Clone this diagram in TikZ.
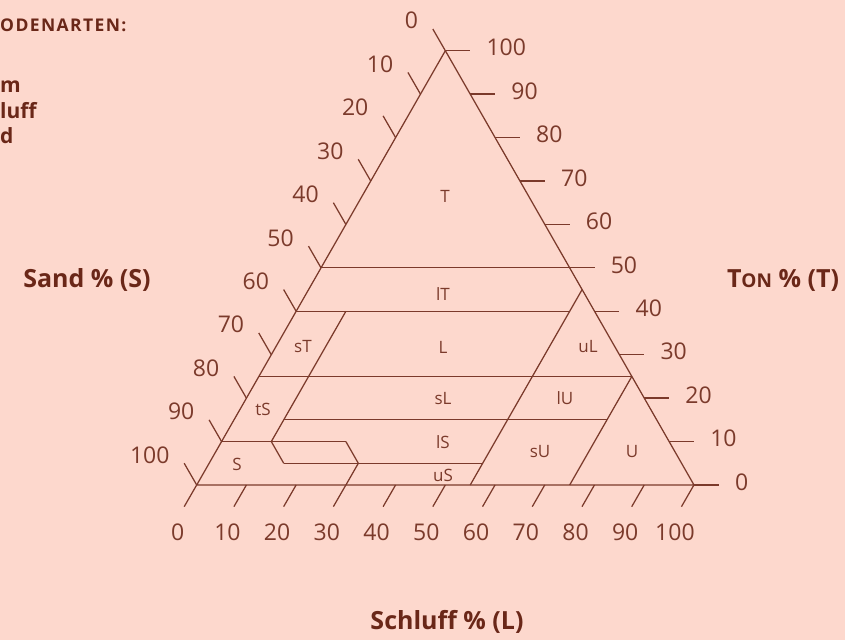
\documentclass[tikz,border=0pt]{standalone}
\usepackage{fontspec}
\setmainfont{Open Sans}
\usepackage{tikz}
\usetikzlibrary{calc}
\definecolor{BG}{HTML}{FDD8CD}
\definecolor{BR}{HTML}{7B3A2B}
\definecolor{BD}{HTML}{6A2718}

\begin{document}
\begin{tikzpicture}[x=1pt, y=-1pt,
    ax/.style={BR, line width=1.25pt},
    num/.style={BR, inner sep=0pt, font=\fontsize{23}{23}\selectfont},
    cls/.style={BR, inner sep=0pt, font=\fontsize{17}{17}\selectfont},
    ttl/.style={BD, inner sep=0pt, font=\fontsize{25}{25}\selectfont\bfseries},
    leg/.style={BD, inner sep=0pt, font=\fontsize{21}{21}\selectfont\bfseries}]

        %% ── page ─────────────────────────────────────
        \fill[BG] (0,0) rectangle (845,640);
        \useasboundingbox (0,0) rectangle (845,640);

        %% ── corners: S=100, L=100, T=100 ─────────────
        \coordinate (S100) at (196.7,485);
        \coordinate (L100) at (694,485);
        \coordinate (T100) at (445.35,50.7);

        \draw[ax, line join=round] (S100) -- (L100) -- (T100) -- cycle;

        %% ── ticks and numbers on the three sides ─────
        \foreach \k in {0,...,10}{
          \pgfmathtruncatemacro{\r}{10-\k}
          \pgfmathtruncatemacro{\v}{10*\k}
          % Sand, left side
          \coordinate (sa\k) at (barycentric cs:S100=\k,L100=0,T100=\r);
          \draw[ax] (sa\k) -- ++(-12.5,-21.7);
          \node[num, anchor=east] (sn\k) at ($(sa\k)+(-27,-30)$) {\v};
          % Ton, right side
          \coordinate (to\k) at (barycentric cs:S100=0,L100=\r,T100=\k);
          \draw[ax] (to\k) -- ++(25,0);
          \node[num, anchor=west] (tn\k) at ($(to\k)+(41,-3)$) {\v};
          % Schluff, bottom
          \coordinate (sc\k) at (barycentric cs:S100=\r,L100=\k,T100=0);
          \draw[ax] (sc\k) -- ++(-12.5,21.7);
          \node[num] (ln\k) at ($(sc\k)+(-19,47)$) {\v};
        }

        %% ── class borders (T, L, S as fractions) ─────
        \coordinate (T50L0)  at (barycentric cs:S100=.50,L100=0,T100=.50);
        \coordinate (T50L50) at (barycentric cs:S100=0,L100=.50,T100=.50);
        \coordinate (T45L55) at (barycentric cs:S100=0,L100=.55,T100=.45);
        \coordinate (T40L0)  at (barycentric cs:S100=.60,L100=0,T100=.40);
        \coordinate (T40L10) at (barycentric cs:S100=.50,L100=.10,T100=.40);
        \coordinate (T40L55) at (barycentric cs:S100=.05,L100=.55,T100=.40);
        \coordinate (T25L0)  at (barycentric cs:S100=.75,L100=0,T100=.25);
        \coordinate (T25L75) at (barycentric cs:S100=0,L100=.75,T100=.25);
        \coordinate (T15L10) at (barycentric cs:S100=.75,L100=.10,T100=.15);
        \coordinate (T15L75) at (barycentric cs:S100=.10,L100=.75,T100=.15);
        \coordinate (T10L0)  at (barycentric cs:S100=.90,L100=0,T100=.10);
        \coordinate (T10L10) at (barycentric cs:S100=.80,L100=.10,T100=.10);
        \coordinate (T10L25) at (barycentric cs:S100=.65,L100=.25,T100=.10);
        \coordinate (T5L15)  at (barycentric cs:S100=.80,L100=.15,T100=.05);
        \coordinate (T5L30)  at (barycentric cs:S100=.65,L100=.30,T100=.05);
        \coordinate (T5L55)  at (barycentric cs:S100=.40,L100=.55,T100=.05);
        \coordinate (T0L30)  at (barycentric cs:S100=.70,L100=.30,T100=0);
        \coordinate (T0L55)  at (barycentric cs:S100=.45,L100=.55,T100=0);
        \coordinate (T0L75)  at (barycentric cs:S100=.25,L100=.75,T100=0);

        \draw[ax] (T50L0) -- (T50L50);
        \draw[ax] (T40L0) -- (T40L55);
        \draw[ax] (T25L0) -- (T25L75);
        \draw[ax] (T15L10) -- (T15L75);
        \draw[ax] (T10L0) -- (T10L25);
        \draw[ax] (T5L15) -- (T5L55);
        \draw[ax] (T40L10) -- (T10L10) -- (T5L15);
        \draw[ax] (T45L55) -- (T0L55);
        \draw[ax] (T25L75) -- (T0L75);
        \draw[ax] (T10L25) -- (T5L30) -- (T0L30);

        %% ── class names ──────────────────────────────
        \node[cls] (cT)  at (445,196) {T};
        \node[cls] (clT) at (443,294) {lT};
        \node[cls] (cL)  at (443,347) {L};
        \node[cls] (csT) at (303,347) {sT};
        \node[cls] (cuL) at (588,347) {uL};
        \node[cls] (ctS) at (263,409) {tS};
        \node[cls] (csL) at (443,399) {sL};
        \node[cls] (clU) at (565,398) {lU};
        \node[cls] (clS) at (443,442) {lS};
        \node[cls] (csU) at (540,452) {sU};
        \node[cls] (cU)  at (632,452) {U};
        \node[cls] (cS)  at (237,464) {S};
        \node[cls] (cuS) at (443,475) {uS};

        %% ── axis titles ──────────────────────────────
        \node[ttl] (sand) at (87,280) {Sand \% (S)};
        \node[ttl] (ton) at (783,280)
          {T{\fontsize{19}{19}\selectfont ON} \% (T)};
        \node[ttl] (schluff) at (447,622) {Schluff \% (L)};

        %% ── legend, left edge ────────────────────────
        \node[leg, anchor=base west, font=\fontsize{17.5}{17.5}\selectfont\bfseries]
          (legh) at (0,31) {\addfontfeatures{LetterSpace=8}ODENARTEN:};
        \node[leg, anchor=base west] (leg1) at (0,92) {m};
        \node[leg, anchor=base west] (leg2) at (0,118) {luff};
        \node[leg, anchor=base west] (leg3) at (0,143) {d};

      \end{tikzpicture}
\end{document}
